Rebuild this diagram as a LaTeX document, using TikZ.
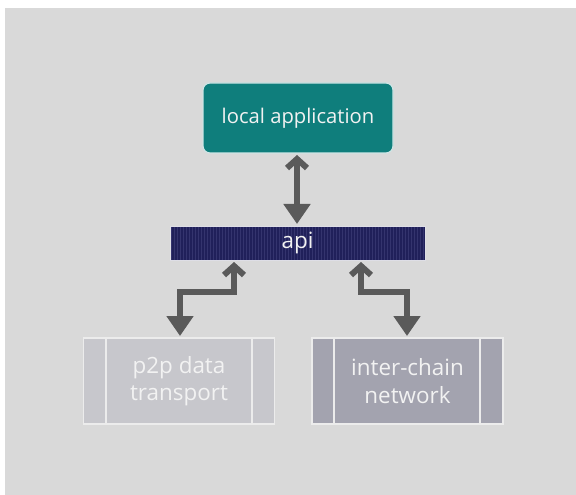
\documentclass[tikz,border=0pt]{standalone}
\usepackage{fontspec}
\setmainfont{Open Sans}
\usetikzlibrary{arrows.meta}
\definecolor{bg}{HTML}{D9D9D9}
\definecolor{teal1}{HTML}{0F7E7C}
\definecolor{navy}{HTML}{20205A}
\definecolor{navyline}{HTML}{34346E}
\definecolor{lgbox}{HTML}{C7C7CC}
\definecolor{dgbox}{HTML}{A3A3AF}
\definecolor{arr}{HTML}{5A5A5A}
\definecolor{boxtxt}{HTML}{F2F2F2}
\begin{document}
\begin{tikzpicture}[x=1bp,y=-1bp,
  conn/.style={draw=arr,line width=6bp,line join=miter,
    {Straight Barb[length=9bp,width=20bp,line width=6bp]}-{Triangle[length=20bp,width=26bp]}},
  lbl/.style={text=boxtxt,font=\fontsize{20.3}{27}\selectfont,align=center,inner sep=0pt},
  biglbl/.style={text=boxtxt,font=\fontsize{22.5}{27.5}\selectfont,align=center,inner sep=0pt},
  procbox/.style={draw=white!85!gray,line width=1.2bp}]
\useasboundingbox (0,0) rectangle (576,495);
\fill[white] (0,0) rectangle (576,495);
\fill[bg] (5,8) rectangle (576,495);
% local application
\node[draw=white!80!teal1,line width=1.2bp,fill=teal1,rounded corners=7bp,
  minimum width=190bp,minimum height=70bp,lbl] (app) at (298,118) {local application};
% api bar
\fill[navy] (170,226) rectangle (425,260);
\foreach \i in {0,...,84}{\draw[navyline,line width=0.8bp] ({171.5+3*\i},226) -- ({171.5+3*\i},260);}
\node[draw=white!85!navy,line width=1bp,minimum width=255bp,minimum height=34bp,biglbl] (api) at (297.5,243) {api};
% p2p box
\node[procbox,fill=lgbox,minimum width=191bp,minimum height=86bp,biglbl] (p2p) at (179,381) {p2p data\\transport};
\draw[white!85!gray,line width=1.2bp] (106,338) -- (106,424) (252,338) -- (252,424);
% inter-chain box
\node[procbox,fill=dgbox,minimum width=191bp,minimum height=86bp,biglbl] (icn) at (407.5,381) {inter-chain\\network};
\draw[white!85!gray,line width=1.2bp] (334,338) -- (334,424) (480,338) -- (480,424);
% connectors
\coordinate (a1) at (297,155);
\coordinate (a2) at (297,224);
\draw[conn] (a1) -- (a2);
\coordinate (b1) at (234,262);
\coordinate (b2) at (180,336);
\draw[conn] (b1) -- (234,292) -- (180,292) -- (b2);
\coordinate (c1) at (361,262);
\coordinate (c2) at (407,336);
\draw[conn] (c1) -- (361,292) -- (407,292) -- (c2);
\end{tikzpicture}
\end{document}
